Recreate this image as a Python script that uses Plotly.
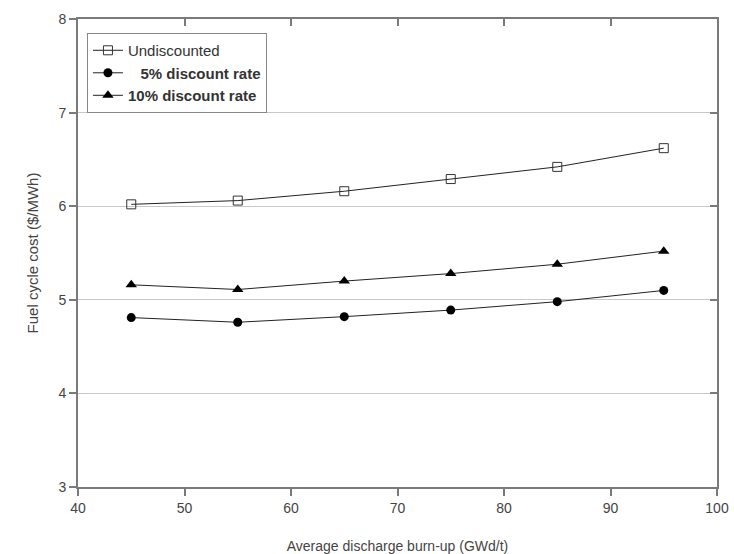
import plotly.graph_objects as go

burnup = [45, 55, 65, 75, 85, 95]
undiscounted = [6.02, 6.06, 6.16, 6.29, 6.42, 6.62]
disc5 = [4.81, 4.76, 4.82, 4.89, 4.98, 5.10]
disc10 = [5.16, 5.11, 5.20, 5.28, 5.38, 5.52]
series_names = ["Undiscounted", "\u00a0\u00a0\u00a0<b>5% discount rate</b>", "<b>10% discount rate</b>"]

xticks = [40, 50, 60, 70, 80, 90, 100]
yticks = [3, 4, 5, 6, 7, 8]

fig = go.Figure()
line = dict(color="#222222", width=1)
fig.add_trace(go.Scatter(x=burnup, y=undiscounted, mode="lines+markers", name=series_names[0],
                         line=line, marker=dict(symbol="square-open", size=9, color="#333333",
                                                line=dict(width=1))))
fig.add_trace(go.Scatter(x=burnup, y=disc5, mode="lines+markers", name=series_names[1],
                         line=line, marker=dict(symbol="circle", size=9, color="#000000")))
fig.add_trace(go.Scatter(x=burnup, y=disc10, mode="lines+markers", name=series_names[2],
                         line=line, marker=dict(symbol="triangle-up", size=10, color="#000000")))
# invisible trace to activate mirrored axes
fig.add_trace(go.Scatter(x=[40], y=[3], xaxis="x2", yaxis="y2", mode="markers",
                         marker=dict(opacity=0), showlegend=False, hoverinfo="skip"))

axcol = "#7a7a7a"
txtcol = "#444444"
fig.update_layout(
    width=734, height=554,
    margin=dict(l=78, r=17, t=19, b=67),
    paper_bgcolor="white", plot_bgcolor="white",
    font=dict(family="Liberation Sans, Arial, sans-serif", size=14, color=txtcol),
    xaxis=dict(range=[40, 100], tickvals=xticks, ticks="outside", ticklen=7, tickwidth=2,
               tickcolor=axcol, showline=True, linecolor=axcol, linewidth=2, showgrid=False,
               zeroline=False, automargin=False,
               title=dict(text="Average discharge burn-up (GWd/t)",
                          font=dict(size=14, color=txtcol), standoff=30),
               tickfont=dict(size=14, color=txtcol)),
    yaxis=dict(range=[3, 8], tickvals=yticks, ticks="outside", ticklen=7, tickwidth=2,
               tickcolor=axcol, showline=True, linecolor=axcol, linewidth=2, showgrid=True,
               gridcolor="#c8c8c8", gridwidth=1, zeroline=False, automargin=False,
               title=dict(text="Fuel cycle cost ($/MWh)", font=dict(size=15, color=txtcol),
                          standoff=16),
               tickfont=dict(size=14, color=txtcol)),
    xaxis2=dict(overlaying="x", side="top", range=[40, 100], tickvals=xticks, ticks="inside",
                ticklen=7, tickwidth=2, tickcolor=axcol, showticklabels=False, showline=True,
                linecolor=axcol, linewidth=2, showgrid=False, zeroline=False),
    yaxis2=dict(overlaying="y", side="right", range=[3, 8], tickvals=yticks, ticks="inside",
                ticklen=7, tickwidth=2, tickcolor=axcol, showticklabels=False, showline=True,
                linecolor=axcol, linewidth=2, showgrid=False, zeroline=False),
    legend=dict(x=0.014, y=0.97, xanchor="left", yanchor="top", bgcolor="white",
                bordercolor="#888888", borderwidth=1,
                font=dict(size=15, color="#333333"), tracegroupgap=2),
    showlegend=True,
)

fig.write_html("out.html")
